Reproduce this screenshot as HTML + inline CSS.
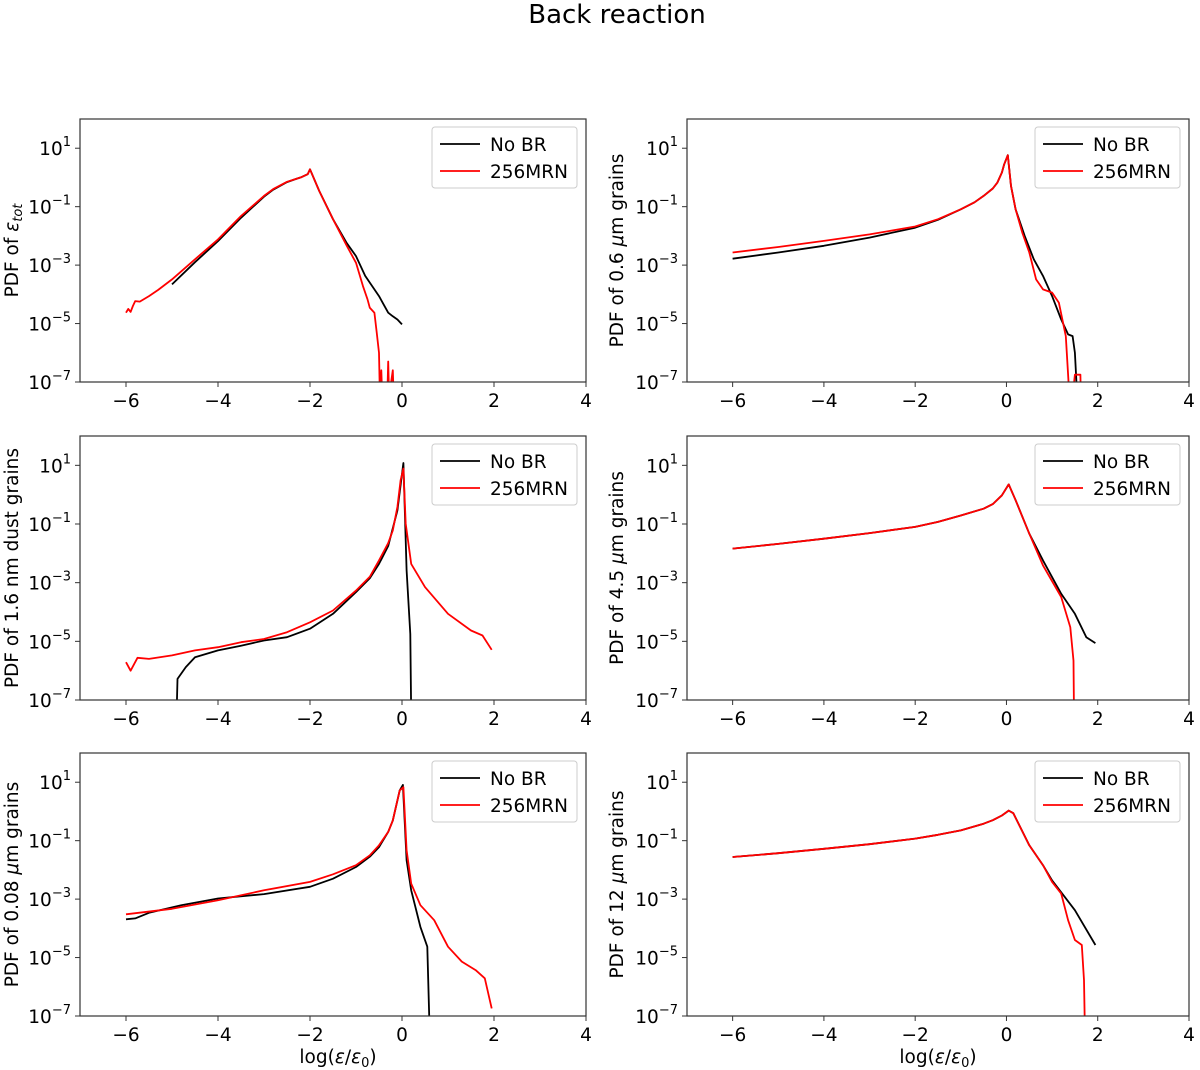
<!DOCTYPE html>
<html><head><meta charset="utf-8"><style>
body{margin:0;background:#fff}
svg{display:block;font-family:"DejaVu Sans","Liberation Sans",sans-serif}
</style></head><body>
<svg id="fig" width="1200" height="1070" viewBox="0 0 1200 1070">
<text x="617" y="23" font-size="26" text-anchor="middle">Back reaction</text>
</svg>
<script>
const xTicks=[-6,-4,-2,0,2,4];
const yTicks=[1,-1,-3,-5,-7];
const seriesNames=["No BR","256MRN"];
const seriesColors=["#000","#ff0000"];
// values: [log(eps/eps0), log10(PDF)]
const p1Black=[[-5,-3.66],[-4.5,-2.9],[-4,-2.18],[-3.5,-1.38],[-3,-0.66],[-2.8,-0.42],[-2.5,-0.16],[-2.3,-0.05],[-2.2,0],[-2.05,0.11],[-2,0.28],[-1.8,-0.46],[-1.5,-1.43],[-1.2,-2.25],[-1,-2.69],[-0.8,-3.37],[-0.5,-4.06],[-0.3,-4.63],[-0.2,-4.75],[-0.1,-4.86],[0,-5.03]];
const p1Red=[[-6,-4.63],[-5.95,-4.5],[-5.9,-4.6],[-5.85,-4.4],[-5.8,-4.23],[-5.7,-4.25],[-5.5,-4.06],[-5.3,-3.85],[-5,-3.49],[-4.5,-2.8],[-4,-2.12],[-3.5,-1.32],[-3,-0.63],[-2.8,-0.4],[-2.5,-0.15],[-2.3,-0.05],[-2.2,0],[-2.05,0.11],[-2,0.28],[-1.8,-0.46],[-1.5,-1.43],[-1.2,-2.34],[-1,-2.92],[-0.85,-3.71],[-0.75,-4.17],[-0.7,-4.46],[-0.6,-4.63],[-0.55,-5.3],[-0.5,-6],[-0.48,-7.5],[-0.45,-6.6],[-0.43,-7.5],[-0.32,-7.5],[-0.3,-6.3],[-0.28,-7.5],[-0.2,-6.6],[-0.18,-7.5]];
const p2Black=[[-6,-2.78],[-5,-2.57],[-4,-2.34],[-3,-2.06],[-2,-1.72],[-1.5,-1.45],[-1,-1.09],[-0.7,-0.85],[-0.5,-0.63],[-0.3,-0.38],[-0.2,-0.18],[-0.1,0.17],[-0.05,0.45],[0.03,0.76],[0.1,-0.29],[0.2,-1.09],[0.4,-2],[0.6,-2.8],[0.8,-3.37],[1.0,-4.06],[1.2,-4.86],[1.35,-5.37],[1.45,-5.43],[1.5,-6],[1.55,-7.5]];
const p2Red=[[-6,-2.57],[-5,-2.38],[-4,-2.17],[-3,-1.95],[-2,-1.68],[-1.5,-1.43],[-1,-1.09],[-0.7,-0.85],[-0.5,-0.63],[-0.3,-0.38],[-0.2,-0.18],[-0.1,0.17],[-0.05,0.45],[0.03,0.76],[0.1,-0.29],[0.2,-1.09],[0.35,-1.9],[0.5,-2.57],[0.65,-3.49],[0.8,-3.83],[1.0,-3.94],[1.15,-4.29],[1.3,-5.43],[1.38,-7.5],[1.45,-7.5],[1.5,-6.75],[1.62,-6.75],[1.63,-7.5]];
const p3Black=[[-4.9,-7.5],[-4.88,-6.28],[-4.7,-5.88],[-4.5,-5.54],[-4,-5.31],[-3.5,-5.15],[-3,-4.97],[-2.5,-4.86],[-2,-4.57],[-1.5,-4.06],[-1,-3.32],[-0.7,-2.85],[-0.5,-2.36],[-0.3,-1.75],[-0.1,-0.54],[0.03,1.08],[0.1,-2.58],[0.18,-4.75],[0.2,-7.5]];
const p3Red=[[-6,-5.71],[-5.9,-6],[-5.75,-5.56],[-5.5,-5.6],[-5,-5.48],[-4.5,-5.31],[-4,-5.2],[-3.5,-5.03],[-3,-4.92],[-2.5,-4.69],[-2,-4.35],[-1.5,-3.95],[-1,-3.27],[-0.7,-2.8],[-0.5,-2.24],[-0.3,-1.65],[-0.2,-1.22],[-0.1,-0.42],[-0.03,0.49],[0.03,0.89],[0.08,-0.99],[0.2,-2.36],[0.5,-3.15],[1,-4.06],[1.5,-4.63],[1.75,-4.8],[1.95,-5.29]];
const p4Black=[[-6,-1.84],[-5,-1.68],[-4,-1.5],[-3,-1.31],[-2,-1.1],[-1.5,-0.93],[-1,-0.71],[-0.5,-0.48],[-0.3,-0.32],[-0.1,-0.02],[0.05,0.35],[0.2,-0.19],[0.5,-1.33],[0.8,-2.24],[1.2,-3.38],[1.5,-4.06],[1.75,-4.86],[1.95,-5.06]];
const p4Red=[[-6,-1.84],[-5,-1.68],[-4,-1.5],[-3,-1.31],[-2,-1.1],[-1.5,-0.93],[-1,-0.71],[-0.5,-0.48],[-0.3,-0.32],[-0.1,-0.02],[0.05,0.35],[0.2,-0.19],[0.5,-1.33],[0.8,-2.41],[1.2,-3.49],[1.4,-4.52],[1.47,-5.66],[1.48,-7.5]];
const p5Black=[[-6,-3.69],[-5.8,-3.66],[-5.5,-3.47],[-4.8,-3.21],[-4,-2.98],[-3,-2.83],[-2,-2.58],[-1.5,-2.3],[-1,-1.9],[-0.7,-1.55],[-0.5,-1.22],[-0.3,-0.7],[-0.2,-0.31],[-0.05,0.72],[0.02,0.91],[0.1,-1.67],[0.2,-2.7],[0.4,-3.95],[0.55,-4.63],[0.6,-7.5]];
const p5Red=[[-6,-3.52],[-5,-3.33],[-4,-3.04],[-3,-2.7],[-2,-2.41],[-1.5,-2.15],[-1,-1.84],[-0.7,-1.5],[-0.5,-1.16],[-0.3,-0.7],[-0.2,-0.31],[-0.05,0.72],[0.03,0.83],[0.1,-1.33],[0.2,-2.47],[0.4,-3.21],[0.7,-3.72],[1,-4.63],[1.3,-5.14],[1.6,-5.43],[1.8,-5.71],[1.95,-6.74]];
const p6Black=[[-6,-1.56],[-5,-1.43],[-4,-1.28],[-3,-1.12],[-2,-0.93],[-1.5,-0.8],[-1,-0.65],[-0.5,-0.42],[-0.3,-0.3],[-0.1,-0.14],[0.05,0.03],[0.15,-0.06],[0.5,-1.16],[0.8,-1.84],[1.0,-2.36],[1.5,-3.38],[1.95,-4.57]];
const p6Red=[[-6,-1.56],[-5,-1.43],[-4,-1.28],[-3,-1.12],[-2,-0.93],[-1.5,-0.8],[-1,-0.65],[-0.5,-0.42],[-0.3,-0.3],[-0.1,-0.14],[0.05,0.03],[0.15,-0.06],[0.5,-1.16],[0.8,-1.84],[1.0,-2.41],[1.2,-2.81],[1.35,-3.72],[1.5,-4.4],[1.65,-4.57],[1.7,-5.77],[1.72,-7.5]];
const panelTitles=[["PDF of ",["ε","tot"]],["PDF of 0.6 ",["μ",""],"m grains"],["PDF of 1.6 nm dust grains"],["PDF of 4.5 ",["μ",""],"m grains"],["PDF of 0.08 ",["μ",""],"m grains"],["PDF of 12 ",["μ",""],"m grains"]];
const panelData=[[p1Black,p1Red],[p2Black,p2Red],[p3Black,p3Red],[p4Black,p4Red],[p5Black,p5Red],[p6Black,p6Red]];

const NS="http://www.w3.org/2000/svg";
const svg=document.getElementById('fig');
function mk(t,a,p){const e=document.createElementNS(NS,t);for(const k in a)e.setAttribute(k,a[k]);(p||svg).appendChild(e);return e;}
const cols=[{x0:80,x1:586},{x0:687,x1:1189}];
const rows=[{y0:119,y1:382},{y0:436,y1:700},{y0:753,y1:1016}];
panelData.forEach((series,i)=>{
  const c=cols[i%2],r=rows[Math.floor(i/2)];
  const xs=v=>c.x0+(v+7)/11*(c.x1-c.x0);
  const ys=v=>r.y1-(v+7)/9*(r.y1-r.y0);
  const g=mk('g',{});
  
  
  const cp=mk('clipPath',{id:'cp'+i},g);mk('rect',{x:c.x0,y:r.y0,width:c.x1-c.x0,height:r.y1-r.y0},cp);
  series.forEach((s,k)=>{
    const pl=mk('polyline',{points:s.map(p=>xs(p[0]).toFixed(1)+','+ys(p[1]).toFixed(1)).join(' '),fill:'none',stroke:seriesColors[k],'stroke-width':1.8,'stroke-linejoin':'round','clip-path':'url(#cp'+i+')'},g);
    
    
  });
  const fr=mk('rect',{x:c.x0,y:r.y0,width:c.x1-c.x0,height:r.y1-r.y0,fill:'none',stroke:'#333','stroke-width':1.2},g);
  
  
  xTicks.forEach(t=>{const x=xs(t);mk('line',{x1:x,x2:x,y1:r.y1,y2:r.y1+5,stroke:'#333'},g);
    const tx=mk('text',{x:x,y:r.y1+25,'font-size':18.5,'text-anchor':'middle'},g);tx.textContent=t<0?'\u2212'+(-t):t;
    
    });
  yTicks.forEach(t=>{const y=ys(t);mk('line',{x1:c.x0-5,x2:c.x0,y1:y,y2:y,stroke:'#333'},g);
    const tx=mk('text',{x:c.x0-9,y:y+7,'font-size':18.5,'text-anchor':'end'},g);
    tx.innerHTML='10<tspan dy="-9" font-size="13">'+(t<0?'\u2212'+(-t):t)+'</tspan>';
    
    });
  const lx=i%2?623:18, ly=(r.y0+r.y1)/2;
  const yt=mk('text',{x:0,y:0,'font-size':18.5,'text-anchor':'middle',transform:'translate('+lx+','+ly+') rotate(-90)'},g);
  let h='';panelTitles[i].forEach(p=>{if(typeof p==='string')h+=p;else{h+='<tspan font-style="italic">'+p[0]+'</tspan>';if(p[1])h+='<tspan font-style="italic" font-size="13" dy="4">'+p[1]+'</tspan>';}});
  yt.innerHTML=h;
  
  
  const lgx=c.x1-154, lgy=r.y0+8;
  const lg=mk('g',{},g);
  
  
  mk('rect',{x:lgx,y:lgy,width:145,height:61,rx:3,fill:'#fff',stroke:'#ccc'},lg);
  seriesNames.forEach((n,k)=>{const yy=lgy+17+k*27;
    mk('line',{x1:lgx+8,x2:lgx+48,y1:yy,y2:yy,stroke:seriesColors[k],'stroke-width':1.8},lg);
    const t=mk('text',{x:lgx+58,y:yy+7,'font-size':18.5},lg);t.textContent=n;
    
    });
  if(i>=4){const xt=mk('text',{x:(c.x0+c.x1)/2+(i%2?0:5),y:1063,'font-size':18.5,'text-anchor':'middle'},g);
    xt.innerHTML='log(<tspan font-style="italic">ε</tspan>/<tspan font-style="italic">ε</tspan><tspan font-size="13" dy="4">0</tspan><tspan dy="-4">)</tspan>';
    
    }
});
</script>
</body></html>
